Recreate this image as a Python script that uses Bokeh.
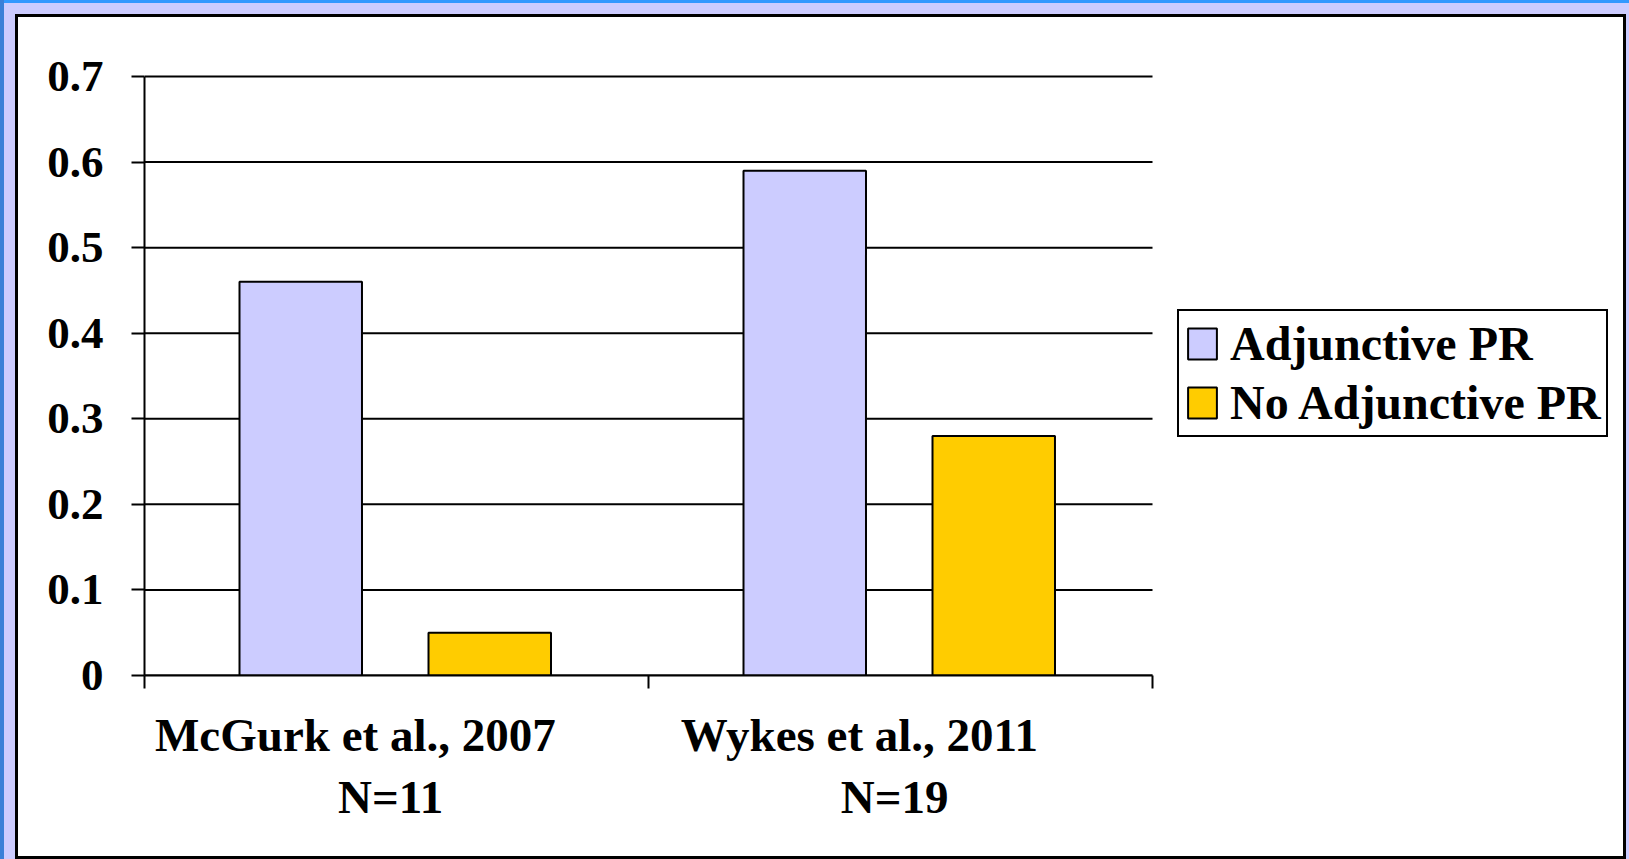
from bokeh.plotting import figure
from bokeh.layouts import column
from bokeh.models import FixedTicker, Legend, LegendItem, ColumnDataSource
from bokeh.embed import file_html
from bokeh.resources import INLINE

# Studies and group results
studies = ["McGurk et al., 2007", "Wykes et al., 2011"]
sample_sizes = ["N=11", "N=19"]
series = ["Adjunctive PR", "No Adjunctive PR"]
adjunctive = [0.46, 0.59]
no_adjunctive = [0.05, 0.28]
y_ticks = [0, 0.1, 0.2, 0.3, 0.4, 0.5, 0.6, 0.7]
y_labels = ["0", "0.1", "0.2", "0.3", "0.4", "0.5", "0.6", "0.7"]

FONT = "Liberation Serif"
LAVENDER = "#ccccff"
GOLD = "#ffcc00"
NBSP = "\u00a0"

# two-line category labels; the first line sits a little left of centre
cat_labels = [f"{s}{NBSP * 7}\n{n}{NBSP}" for s, n in zip(studies, sample_sizes)]

n_cat = len(studies)
y_max = y_ticks[-1]
centers = [i + 0.5 for i in range(n_cat)]
src_a = ColumnDataSource(dict(x=[c - 0.19 for c in centers], top=adjunctive))
src_n = ColumnDataSource(dict(x=[c + 0.185 for c in centers], top=no_adjunctive))

# the plotting area runs on past the last study to leave room for the legend,
# and a few pixels above the top gridline so it is not clipped
CHART_W, FRAME_W = 1008, 1468
CHART_H, TOP_PAD = 599, 3
p = figure(width=1605, height=839, output_backend="svg", toolbar_location=None,
           x_range=(0, n_cat * FRAME_W / CHART_W),
           y_range=(0, y_max * (CHART_H + TOP_PAD) / CHART_H),
           min_border_left=126, min_border_right=1605 - 126 - FRAME_W,
           min_border_top=59 - TOP_PAD, min_border_bottom=181)
p.border_fill_color = "white"
p.background_fill_color = "white"
p.outline_line_color = None

# horizontal gridlines across the study columns only
p.segment(x0=0, x1=n_cat, y0=y_ticks, y1=y_ticks, line_color="black",
          line_width=2)

r_a = p.vbar(x="x", top="top", width=0.243, source=src_a,
             fill_color=LAVENDER, line_color="black", line_width=2)
r_n = p.vbar(x="x", top="top", width=0.243, source=src_n,
             fill_color=GOLD, line_color="black", line_width=2)

# y axis
p.yaxis.bounds = (0, y_max)
p.yaxis.ticker = FixedTicker(ticks=y_ticks)
p.yaxis.major_label_overrides = {t: s for t, s in zip(y_ticks, y_labels)}
p.yaxis.major_tick_out = 13
p.yaxis.major_tick_in = 0
p.yaxis.minor_tick_out = 0
p.yaxis.minor_tick_in = 0
p.yaxis.axis_line_width = 2
p.yaxis.major_tick_line_width = 2
p.yaxis.major_label_standoff = 28
p.yaxis.major_label_text_font = FONT
p.yaxis.major_label_text_font_style = "bold"
p.yaxis.major_label_text_font_size = "45px"
p.yaxis.major_label_text_color = "black"

# x axis: labels at study centres, ticks at the boundaries
p.xaxis.bounds = (0, n_cat)
p.xaxis.ticker = FixedTicker(ticks=centers, minor_ticks=list(range(n_cat + 1)))
p.xaxis.major_label_overrides = {c: s for c, s in zip(centers, cat_labels)}
p.xaxis.major_tick_out = 0
p.xaxis.major_tick_in = 0
p.xaxis.minor_tick_out = 13
p.xaxis.minor_tick_in = 0
p.xaxis.minor_tick_line_width = 2
p.xaxis.minor_tick_line_color = "black"
p.xaxis.axis_line_width = 2
p.xaxis.major_label_standoff = 20
p.xaxis.major_label_text_font = FONT
p.xaxis.major_label_text_font_style = "bold"
p.xaxis.major_label_text_font_size = "47px"
p.xaxis.major_label_text_color = "black"

p.xgrid.grid_line_color = None
p.ygrid.grid_line_color = None

legend = Legend(items=[LegendItem(label=series[0], renderers=[r_a]),
                       LegendItem(label=series[1], renderers=[r_n])],
                location=(1033, 238))
legend.label_text_font = FONT
legend.label_text_font_style = "bold"
legend.label_text_font_size = "48px"
legend.label_text_color = "black"
legend.glyph_width = 36
legend.glyph_height = 39
legend.label_standoff = 10
legend.padding = 5
legend.spacing = 4
legend.margin = 0
legend.border_line_color = "black"
legend.border_line_width = 2
legend.border_line_alpha = 1
legend.background_fill_alpha = 1
p.add_layout(legend, "center")

# white chart panel with a black frame, on a lavender slide with blue edges
panel = column(p, width=1605, height=839, margin=(17, 6, 3, 18),
               styles={"background-color": "white",
                       "outline": "3px solid black"})
page = column(panel, width=1629, height=859,
              styles={"background-color": LAVENDER,
                      "box-shadow": "inset 4px 0 0 #3a80d8, inset 0 3px 0 #3399ff"})

open("out.html", "w").write(file_html(page, INLINE))
